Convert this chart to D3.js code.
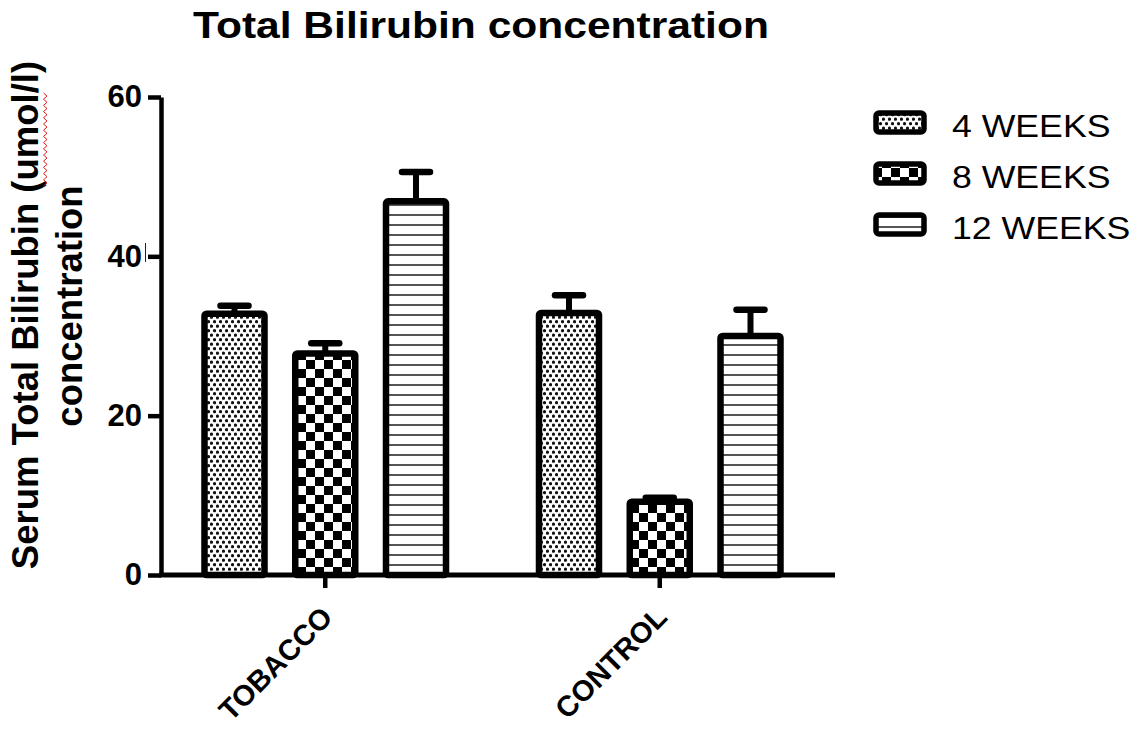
<!DOCTYPE html>
<html>
<head>
<meta charset="utf-8">
<script src="https://cdn.jsdelivr.net/npm/d3@7/dist/d3.min.js"></script>
<style>
  html, body { margin: 0; padding: 0; background: #fff; }
  svg { display: block; font-family: Arial, "Liberation Sans", sans-serif; }
</style>
</head>
<body>
<svg id="chart" width="1141" height="733"></svg>
<script>
// Serum total bilirubin, mean with upper SEM, by group and exposure duration
const groups = ["TOBACCO", "CONTROL"];
const series = ["4 WEEKS", "8 WEEKS", "12 WEEKS"];
const tobaccoMeans = [32.8, 27.8, 46.9];
const tobaccoErrors = [1.0, 1.3, 3.7];
const controlMeans = [32.9, 9.2, 30.0];
const controlErrors = [2.2, 0.5, 3.3];
const yTicks = [0, 20, 40, 60];

const rows = [
  { group: "TOBACCO", means: tobaccoMeans, errors: tobaccoErrors },
  { group: "CONTROL", means: controlMeans, errors: controlErrors }
];
const bars = rows.flatMap(r => series.map((s, i) => ({
  group: r.group, series: s, value: r.means[i], err: r.errors[i]
})));

const svg = d3.select("#chart");

// fill patterns, one per duration
const defs = svg.append("defs");
const pDots = defs.append("pattern").attr("id", "pat-0")
  .attr("patternUnits", "userSpaceOnUse").attr("width", 6).attr("height", 9);
pDots.append("rect").attr("width", 6).attr("height", 9).attr("fill", "#fff");
pDots.append("circle").attr("cx", 1.5).attr("cy", 2.2).attr("r", 1.6).attr("fill", "#111");
pDots.append("circle").attr("cx", 4.5).attr("cy", 6.7).attr("r", 1.6).attr("fill", "#111");

const pCheck = defs.append("pattern").attr("id", "pat-1")
  .attr("patternUnits", "userSpaceOnUse").attr("width", 18).attr("height", 18);
pCheck.append("rect").attr("width", 18).attr("height", 18).attr("fill", "#fff");
pCheck.append("rect").attr("width", 9).attr("height", 9).attr("fill", "#000");
pCheck.append("rect").attr("x", 9).attr("y", 9).attr("width", 9).attr("height", 9).attr("fill", "#000");

const pLines = defs.append("pattern").attr("id", "pat-2")
  .attr("patternUnits", "userSpaceOnUse").attr("width", 10).attr("height", 10);
pLines.append("rect").attr("width", 10).attr("height", 10).attr("fill", "#fff");
pLines.append("rect").attr("y", 4).attr("width", 10).attr("height", 2).attr("fill", "#555");

// scales
const y = d3.scaleLinear().domain([0, 60]).range([575, 97]);
const xGroup = d3.scaleBand().domain(groups).range([158, 827]);
const xSeries = d3.scalePoint().domain(series).range([-90.75, 90.75]);
const barW = 60;
const cx = d => xGroup(d.group) + xGroup.bandwidth() / 2 + xSeries(d.series);

// title
svg.append("text")
  .attr("transform", "translate(481,38) scale(1.15,1)")
  .attr("text-anchor", "middle")
  .attr("font-size", 37).attr("font-weight", "bold")
  .text("Total Bilirubin concentration");

// y axis
const yAxis = svg.append("g")
  .attr("transform", "translate(161,0)")
  .call(d3.axisLeft(y).tickValues(yTicks).tickSize(13).tickSizeOuter(0).tickPadding(6));
yAxis.select(".domain").attr("stroke", "#000").attr("stroke-width", 4.5);
yAxis.selectAll(".tick line").attr("stroke", "#000").attr("stroke-width", 4.5);
yAxis.selectAll(".tick text")
  .attr("font-size", 31).attr("font-weight", "bold").attr("fill", "#000")
  .attr("font-family", "Arial, 'Liberation Sans', sans-serif");

// text cursor mark beside the 40 label
svg.append("line")
  .attr("x1", 145.5).attr("x2", 145.5).attr("y1", 243).attr("y2", 262)
  .attr("stroke", "#222").attr("stroke-width", 1);

// y axis title, two lines
const yTitle = svg.append("g").attr("font-size", 36.5).attr("font-weight", "bold").attr("text-anchor", "middle");
yTitle.append("text").attr("transform", "translate(38,315) rotate(-90)")
  .text("Serum Total Bilirubin (umol/l)");
yTitle.append("text").attr("transform", "translate(82,306) rotate(-90)")
  .text("concentration");

// red wavy underline under the unit
const wave = d3.range(0, 31).map(i => [i % 2 === 0 ? 43.5 : 47, 93 + i * 3.1]);
svg.append("path")
  .attr("d", d3.line()(wave))
  .attr("fill", "none").attr("stroke", "#e02020").attr("stroke-width", 1);

// error bars (drawn under the bars)
const eb = svg.append("g").attr("stroke", "#000");
eb.selectAll("line.stem").data(bars).join("line").attr("class", "stem")
  .attr("x1", cx).attr("x2", cx)
  .attr("y1", d => y(d.value)).attr("y2", d => y(d.value + d.err))
  .attr("stroke-width", 6);
eb.selectAll("line.cap").data(bars).join("line").attr("class", "cap")
  .attr("x1", d => cx(d) - 14).attr("x2", d => cx(d) + 14)
  .attr("y1", d => y(d.value + d.err)).attr("y2", d => y(d.value + d.err))
  .attr("stroke-width", 6.5).attr("stroke-linecap", "round");

// bars
svg.append("g").selectAll("rect").data(bars).join("rect")
  .attr("x", d => cx(d) - barW / 2)
  .attr("y", d => y(d.value))
  .attr("width", barW)
  .attr("height", d => y(0) - y(d.value))
  .attr("rx", 2)
  .attr("fill", d => `url(#pat-${series.indexOf(d.series)})`)
  .attr("stroke", "#000").attr("stroke-width", 6.5).attr("stroke-linejoin", "round");

// x axis
const xAxis = svg.append("g")
  .attr("transform", "translate(0,575)")
  .call(d3.axisBottom(xGroup).tickSize(13).tickSizeOuter(0));
xAxis.select(".domain").remove();
xAxis.selectAll(".tick line").attr("stroke", "#000").attr("stroke-width", 4.5);
xAxis.selectAll(".tick text")
  .attr("font-size", 29).attr("font-weight", "bold").attr("fill", "#000")
  .attr("font-family", "Arial, 'Liberation Sans', sans-serif")
  .attr("text-anchor", "end")
  .attr("dy", 0).attr("y", 0)
  .attr("transform", "translate(9,44) rotate(-45)");
svg.append("line")
  .attr("x1", 159).attr("x2", 835).attr("y1", 575).attr("y2", 575)
  .attr("stroke", "#000").attr("stroke-width", 5);

// legend
const legend = svg.append("g").selectAll("g").data(series).join("g")
  .attr("transform", (d, i) => `translate(0,${i * 51})`);
legend.append("rect")
  .attr("x", 876).attr("y", 113).attr("width", 48).attr("height", 19).attr("rx", 3)
  .attr("fill", (d, i) => `url(#pat-${i})`)
  .attr("stroke", "#000").attr("stroke-width", 5.5);
legend.append("text")
  .attr("transform", "translate(952,137) scale(1.15,1)")
  .attr("font-size", 31)
  .text(d => d);
</script>
</body>
</html>
